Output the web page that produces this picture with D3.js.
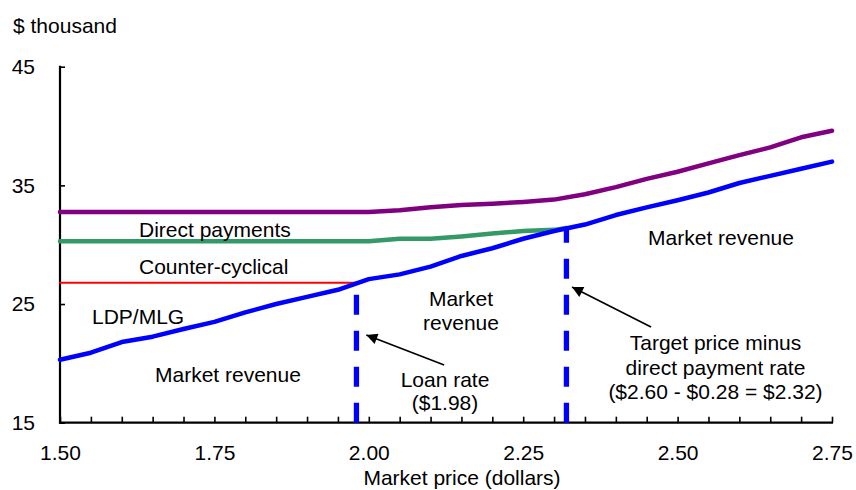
<!DOCTYPE html>
<html>
<head>
<meta charset="utf-8">
<script src="https://cdn.jsdelivr.net/npm/d3@7"></script>
<style>
body { margin: 0; background: #fff; }
svg text { font-family: Arial, "Liberation Sans", sans-serif; font-size: 21px; fill: #000; }
</style>
</head>
<body>
<svg id="chart" width="856" height="490"></svg>
<script>
//Market price grid (dollars)
const PRICE = [1.50, 1.55, 1.60, 1.65, 1.70, 1.75, 1.80, 1.85, 1.90, 1.95, 2.00, 2.05, 2.10, 2.15, 2.20, 2.25, 2.30, 2.35, 2.40, 2.45, 2.50, 2.55, 2.60, 2.65, 2.70, 2.75];
//Market revenue ($ thousand)
const MARKET_REVENUE = [20.3, 20.9, 21.8, 22.25, 22.9, 23.5, 24.3, 25.0, 25.6, 26.2, 27.1, 27.5, 28.15, 29.05, 29.7, 30.5, 31.15, 31.7, 32.5, 33.15, 33.75, 34.4, 35.2, 35.8, 36.4, 37.0];
//Total revenue incl. direct payments
const TOTAL_REVENUE = [32.75, 32.75, 32.75, 32.75, 32.75, 32.75, 32.75, 32.75, 32.75, 32.75, 32.75, 32.9, 33.15, 33.35, 33.45, 33.6, 33.8, 34.25, 34.85, 35.55, 36.15, 36.85, 37.55, 38.2, 39.05, 39.6];
//Revenue without direct payments (ends at target price minus DP rate)
const DP_PRICE = [1.50, 1.55, 1.60, 1.65, 1.70, 1.75, 1.80, 1.85, 1.90, 1.95, 2.00, 2.05, 2.10, 2.15, 2.20, 2.25, 2.30, 2.32];
const DP_REVENUE = [30.3, 30.3, 30.3, 30.3, 30.3, 30.3, 30.3, 30.3, 30.3, 30.3, 30.3, 30.5, 30.5, 30.7, 30.95, 31.15, 31.25, 31.4];
//Revenue without counter-cyclical payments (ends at loan rate)
const CC_PRICE = [1.50, 1.98];
const CC_REVENUE = [26.8, 26.8];
//Price thresholds
const LOAN_RATE = 1.98;
const TARGET_MINUS_DP = 2.32;
//Ticks
const X_TICKS = PRICE;
const X_TICK_LABELS = ["1.50", "1.75", "2.00", "2.25", "2.50", "2.75"];
const Y_TICKS = [15, 25, 35, 45];

const LEFT = 60;
const RIGHT = 832;
const TOP = 66.7;
const BOTTOM = 422.7;

const svg = d3.select("#chart");

const x = d3.scaleLinear().domain([1.50, 2.75]).range([LEFT, RIGHT]);
const y = d3.scaleLinear().domain([15, 45]).range([BOTTOM, TOP]);

//Interpolate market revenue at a given price (for dashed line tops)
function market_at(p)
{
	const i = d3.bisectRight(PRICE, p) - 1;
	const t = (p - PRICE[i]) / (PRICE[i + 1] - PRICE[i]);
	return MARKET_REVENUE[i] + t * (MARKET_REVENUE[i + 1] - MARKET_REVENUE[i]);
}

//Axes
const x_axis = d3.axisBottom(x)
	.tickValues(X_TICKS)
	.tickSizeInner(-6)
	.tickSizeOuter(0)
	.tickPadding(22)
	.tickFormat(d => {
		const s = d3.format(".2f")(d);
		return X_TICK_LABELS.includes(s) ? s : "";
	});
const gx = svg.append("g").attr("transform", "translate(0," + BOTTOM + ")").call(x_axis);

const y_axis = d3.axisLeft(y)
	.tickValues(Y_TICKS)
	.tickSizeInner(-5)
	.tickSizeOuter(0)
	.tickPadding(25);
const gy = svg.append("g").attr("transform", "translate(" + LEFT + ",0)").call(y_axis);

for (const g of [gx, gy])
{
	g.attr("font-size", null).attr("font-family", null);
	g.select(".domain").attr("stroke", "#000").attr("stroke-width", 2.2);
	g.selectAll(".tick line").attr("stroke", "#000").attr("stroke-width", 1.6);
	g.selectAll(".tick text").attr("fill", "#000");
}
gx.select(".domain").attr("d", "M" + (LEFT - 1) + ",0H" + (RIGHT + 1));
gy.select(".domain").attr("d", "M0," + (BOTTOM + 1) + "V" + (TOP - 1));

//Series lines
const line = d3.line().x(d => x(d[0])).y(d => y(d[1]));
function draw_series(xs, ys, color, width)
{
	svg.append("path")
		.datum(xs.map((v, i) => [v, ys[i]]))
		.attr("d", line)
		.attr("fill", "none")
		.attr("stroke", color)
		.attr("stroke-width", width)
		.attr("stroke-linejoin", "round")
		.attr("stroke-linecap", "round");
}
draw_series(PRICE, TOTAL_REVENUE, "#800080", 4.5);
draw_series(DP_PRICE, DP_REVENUE, "#339966", 4.5);
draw_series(CC_PRICE, CC_REVENUE, "#ff0000", 2);
draw_series(PRICE, MARKET_REVENUE, "#0000ff", 4.5);

//Dashed threshold lines, dashes start at the axis
for (const p of [LOAN_RATE, TARGET_MINUS_DP])
{
	svg.append("line")
		.attr("x1", x(p)).attr("x2", x(p))
		.attr("y1", y(15)).attr("y2", y(market_at(p)))
		.attr("stroke", "#0000ff")
		.attr("stroke-width", 5.3)
		.attr("stroke-dasharray", "20,16");
}

//Arrows
svg.append("defs").append("marker")
	.attr("id", "arrow")
	.attr("viewBox", "0 0 10 10")
	.attr("refX", 10).attr("refY", 5)
	.attr("markerUnits", "userSpaceOnUse")
	.attr("markerWidth", 16).attr("markerHeight", 11)
	.attr("orient", "auto")
	.append("path").attr("d", "M0,0L10,5L0,10Z").attr("fill", "#000");

const ARROWS = [
	[[2.122, 19.86], [1.996, 22.39]],
	[[2.457, 23.06], [2.329, 26.43]]
];
for (const a of ARROWS)
{
	svg.append("line")
		.attr("x1", x(a[0][0])).attr("y1", y(a[0][1]))
		.attr("x2", x(a[1][0])).attr("y2", y(a[1][1]))
		.attr("stroke", "#000")
		.attr("stroke-width", 1.6)
		.attr("marker-end", "url(#arrow)");
}

//Text labels
function label(txt, px, py, anchor)
{
	svg.append("text").attr("x", px).attr("y", py).attr("text-anchor", anchor || "start").text(txt);
}
label("$ thousand", 13, 33);
label("Market price (dollars)", 462, 485, "middle");
label("Direct payments", 139, 237);
label("Counter-cyclical", 139, 273.5);
label("LDP/MLG", 92, 324);
label("Market revenue", 155, 382);
label("Market", 461, 305.5, "middle");
label("revenue", 461, 329.5, "middle");
label("Loan rate", 445, 387, "middle");
label("($1.98)", 445, 410, "middle");
label("Market revenue", 721, 245, "middle");
label("Target price minus", 715.5, 350, "middle");
label("direct payment rate", 715.5, 374.5, "middle");
label("($2.60 - $0.28 = $2.32)", 715.5, 398.5, "middle");
</script>
</body>
</html>
